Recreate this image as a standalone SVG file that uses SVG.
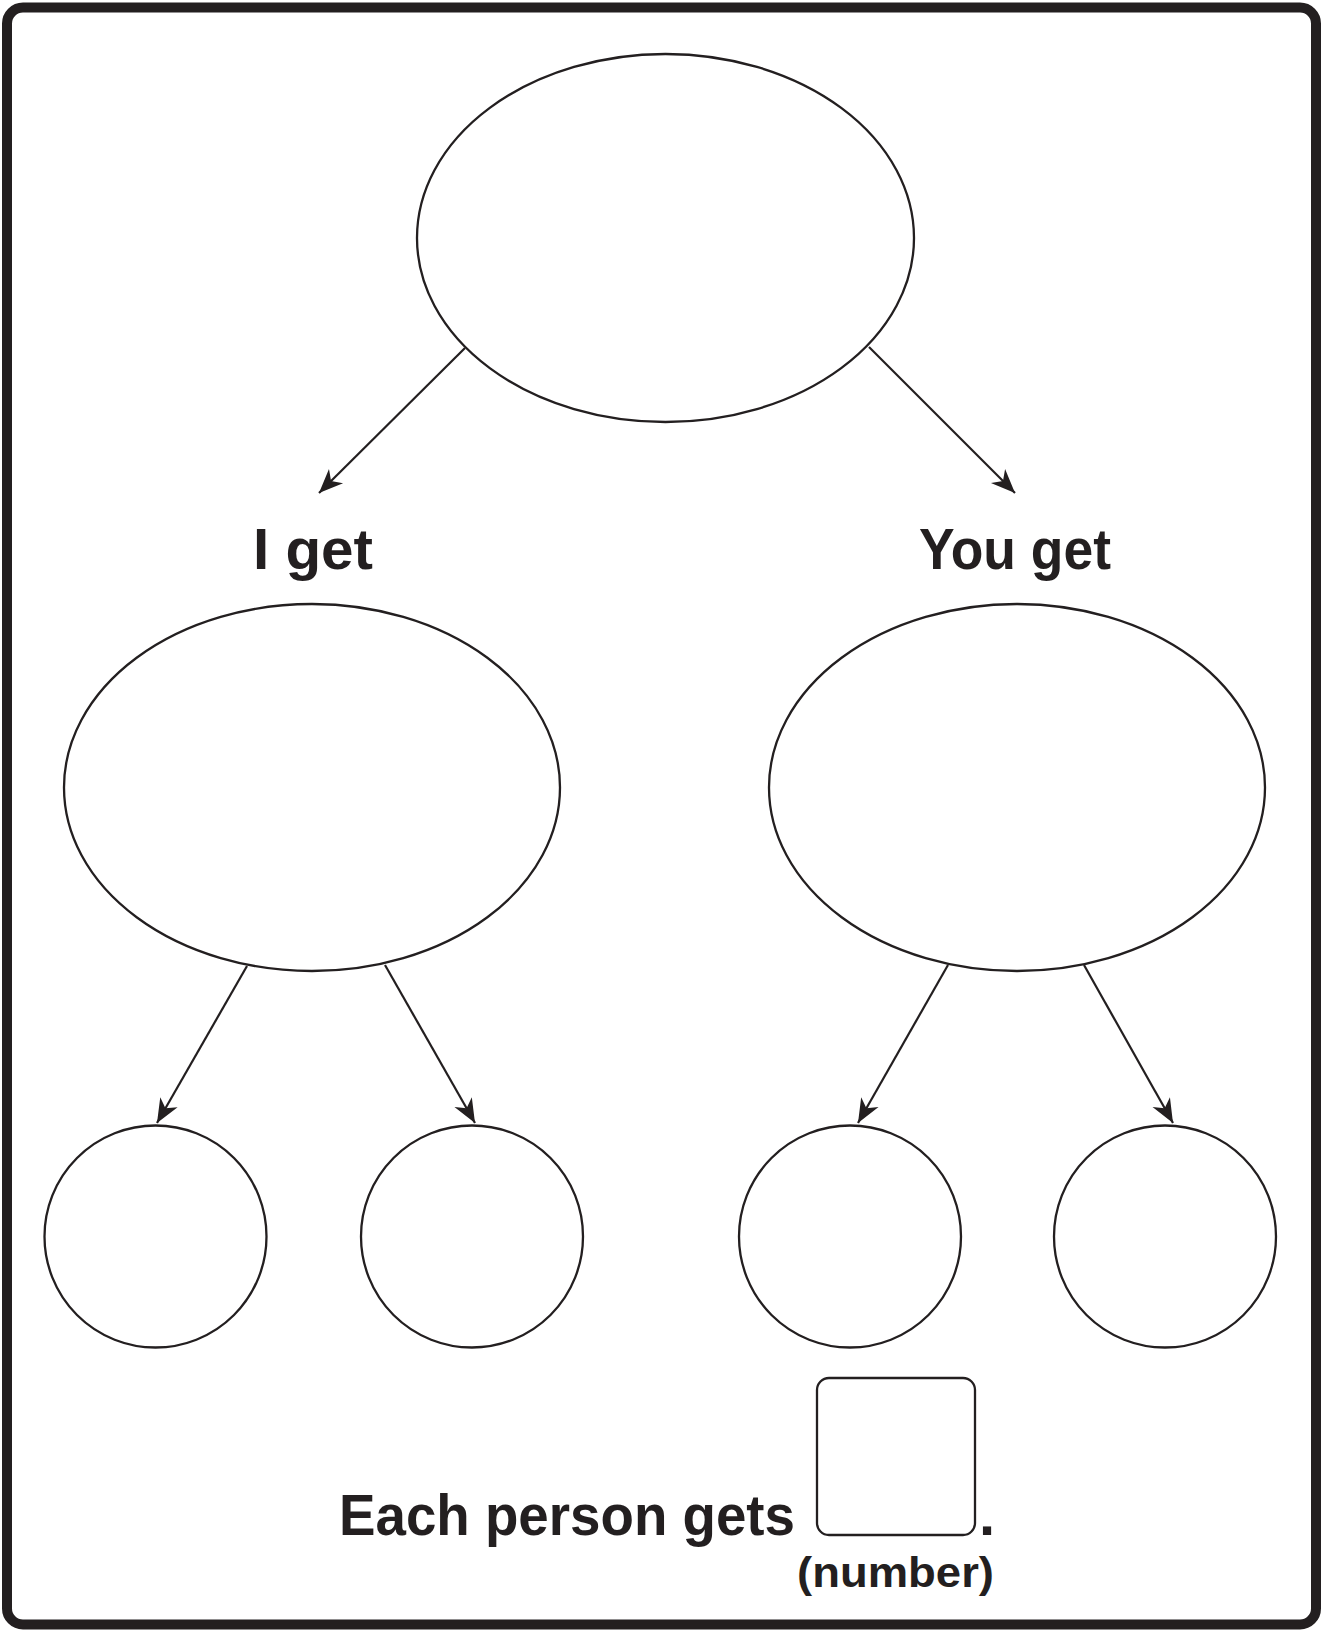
<svg xmlns="http://www.w3.org/2000/svg" width="1322" height="1630" viewBox="0 0 1322 1630">
<style>
.shape{fill:#fff;stroke:#231f20;stroke-width:2.3}
.conn{stroke:#231f20;stroke-width:2.2;fill:none}
.lbl{font-family:"Liberation Sans",Arial,sans-serif;font-weight:bold;fill:#231f20}
</style>
<defs>
<marker id="arr" markerUnits="userSpaceOnUse" viewBox="-26 -11 28 22" refX="0" refY="0" markerWidth="28" markerHeight="22" orient="auto">
<path d="M0,0 L-24,-10 L-17,0 L-24,10 Z" fill="#231f20"/>
</marker>
</defs>
<rect x="0" y="0" width="1322" height="1630" fill="#fff"/>
<rect id="frame" x="7" y="7.5" width="1309" height="1617" rx="16" ry="16" fill="none" stroke="#231f20" stroke-width="10"/>
<g id="connectors">
<line class="conn" x1="465" y1="348" x2="319" y2="493" marker-end="url(#arr)"/>
<line class="conn" x1="869" y1="347" x2="1015" y2="493" marker-end="url(#arr)"/>
<line class="conn" x1="247" y1="966" x2="157" y2="1123" marker-end="url(#arr)"/>
<line class="conn" x1="385" y1="965" x2="475" y2="1123" marker-end="url(#arr)"/>
<line class="conn" x1="948" y1="965" x2="858" y2="1123" marker-end="url(#arr)"/>
<line class="conn" x1="1084" y1="965" x2="1173" y2="1123" marker-end="url(#arr)"/>
</g>
<g id="top"><ellipse class="shape" cx="665.5" cy="238" rx="248.5" ry="184"/></g>
<g id="left"><ellipse class="shape" cx="312" cy="787.5" rx="248" ry="183.5"/></g>
<g id="right"><ellipse class="shape" cx="1017" cy="787.5" rx="248" ry="183.5"/></g>
<g id="c1"><circle class="shape" cx="155.5" cy="1236.5" r="111"/></g>
<g id="c2"><circle class="shape" cx="472" cy="1236.5" r="111"/></g>
<g id="c3"><circle class="shape" cx="850" cy="1236.5" r="111"/></g>
<g id="c4"><circle class="shape" cx="1165" cy="1236.5" r="111"/></g>
<g id="label-i"><text class="lbl" x="253" y="569" font-size="57" textLength="120" lengthAdjust="spacingAndGlyphs">I get</text></g>
<g id="label-you"><text class="lbl" x="919" y="569" font-size="57" textLength="192" lengthAdjust="spacingAndGlyphs">You get</text></g>
<g id="answer">
<text class="lbl" x="339" y="1535" font-size="58" textLength="456" lengthAdjust="spacingAndGlyphs">Each person gets</text>
<rect class="shape" x="817" y="1378" width="158" height="157" rx="12" ry="12"/>
<text class="lbl" x="979" y="1535" font-size="58">.</text>
<text class="lbl" x="797" y="1587" font-size="42" textLength="197" lengthAdjust="spacingAndGlyphs">(number)</text>
</g>
</svg>
